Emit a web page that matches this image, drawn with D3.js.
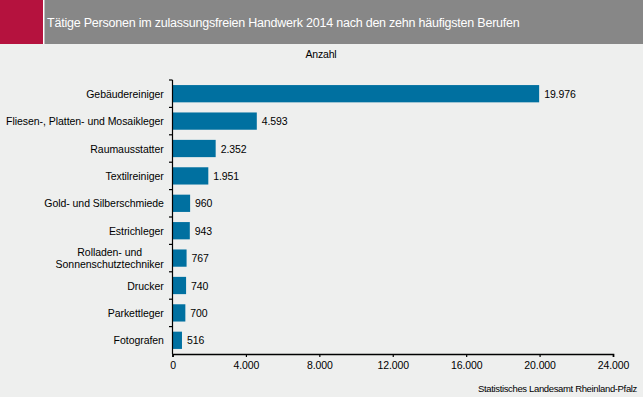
<!DOCTYPE html>
<html>
<head>
<meta charset="utf-8">
<script src="https://cdn.jsdelivr.net/npm/d3@7"></script>
<style>
  body { margin: 0; background: #eeefee; }
  text { font-family: "Liberation Sans", Arial, sans-serif; }
</style>
</head>
<body>
<div id="chart-area"></div>
<script>
var berufe = ["Gebäudereiniger", "Fliesen-, Platten- und Mosaikleger", "Raumausstatter", "Textilreiniger",
  "Gold- und Silberschmiede", "Estrichleger", "Rolladen- und\nSonnenschutztechniker", "Drucker", "Parkettleger", "Fotografen"];
var anzahl = [19976, 4593, 2352, 1951, 960, 943, 767, 740, 700, 516];
var xTicks = [0, 4000, 8000, 12000, 16000, 20000, 24000];

var width = 643, height = 397;
var fmt = d3.formatLocale({decimal: ",", thousands: ".", grouping: [3]}).format(",");

var svg = d3.select("#chart-area").append("svg")
  .attr("width", width)
  .attr("height", height);

svg.append("rect").attr("width", width).attr("height", height).attr("fill", "#eeefee");

// header
svg.append("rect").attr("x", 0).attr("y", 0).attr("width", 43).attr("height", 44).attr("fill", "#b5123e");
svg.append("rect").attr("x", 43).attr("y", 0).attr("width", 1.5).attr("height", 44).attr("fill", "#ffffff");
svg.append("rect").attr("x", 44.5).attr("y", 0).attr("width", width - 44.5).attr("height", 44).attr("fill", "#878787");
svg.append("text")
  .attr("x", 47).attr("y", 27)
  .attr("fill", "#fff")
  .attr("font-size", 12.5)
  .attr("letter-spacing", -0.22)
  .text("Tätige Personen im zulassungsfreien Handwerk 2014 nach den zehn häufigsten Berufen");

svg.append("text")
  .attr("x", 321).attr("y", 58)
  .attr("text-anchor", "middle")
  .attr("font-size", 10.5)
  .attr("letter-spacing", -0.2)
  .text("Anzahl");

var x = d3.scaleLinear().domain([0, 24000]).range([172.5, 613]);
var y = d3.scaleBand().domain(berufe).range([80, 354]).paddingInner(0.37).paddingOuter(0.185);

svg.selectAll("rect.bar")
  .data(berufe)
  .enter().append("rect")
  .attr("class", "bar")
  .attr("x", x(0))
  .attr("y", d => y(d))
  .attr("width", (d, i) => x(anzahl[i]) - x(0))
  .attr("height", y.bandwidth())
  .attr("fill", "#0070a0");

svg.selectAll("text.val")
  .data(berufe)
  .enter().append("text")
  .attr("class", "val")
  .attr("x", (d, i) => x(anzahl[i]) + 5)
  .attr("y", d => y(d) + y.bandwidth() / 2 + 4)
  .attr("font-size", 10.5)
  .attr("letter-spacing", -0.1)
  .attr("fill", "#000")
  .text((d, i) => fmt(anzahl[i]));

// category labels
var labels = svg.selectAll("text.cat")
  .data(berufe)
  .enter().append("text")
  .attr("class", "cat")
  .attr("text-anchor", "middle")
  .attr("font-size", 10.5)
  .attr("letter-spacing", -0.05)
  .attr("fill", "#000");

labels.each(function(d) {
  var lines = d.split("\n");
  var t = d3.select(this);
  var cy = y(d) + y.bandwidth() / 2;
  lines.forEach((l, j) => {
    t.append("tspan")
      .attr("x", 0)
      .attr("y", cy + 4 + (j - (lines.length - 1) / 2) * 12)
      .text(l);
  });
});
// block right-aligned to 164, lines centered inside the block
labels.each(function() {
  var b = this.getBBox();
  d3.select(this).attr("transform", "translate(" + (164 - b.width / 2) + ",0)");
});

// y axis line and ticks at band boundaries
var step = y.step();
var yAxis = svg.append("g");
yAxis.append("line")
  .attr("x1", 172.5).attr("x2", 172.5).attr("y1", 80).attr("y2", 354)
  .attr("stroke", "#000").attr("stroke-width", 1.2);
yAxis.selectAll("line.tk")
  .data(d3.range(berufe.length))
  .enter().append("line")
  .attr("x1", 169).attr("x2", 172.5)
  .attr("y1", i => 80 + i * step).attr("y2", i => 80 + i * step)
  .attr("stroke", "#000").attr("stroke-width", 1.2);

// x axis
var xAxis = svg.append("g")
  .attr("transform", "translate(0,354)")
  .call(d3.axisBottom(x).tickValues(xTicks).tickFormat(fmt).tickSize(3).tickSizeOuter(3));
xAxis.select(".domain").attr("stroke-width", 1.6);
xAxis.selectAll(".tick line").attr("stroke-width", 1.2);
xAxis.selectAll("text")
  .attr("font-size", 10.5)
  .attr("letter-spacing", -0.1)
  .attr("font-family", "Liberation Sans, Arial, sans-serif")
  .attr("dy", "0.9em");

svg.append("text")
  .attr("x", 637).attr("y", 392)
  .attr("text-anchor", "end")
  .attr("font-size", 9.5)
  .attr("letter-spacing", -0.35)
  .text("Statistisches Landesamt Rheinland-Pfalz");
</script>
</body>
</html>
